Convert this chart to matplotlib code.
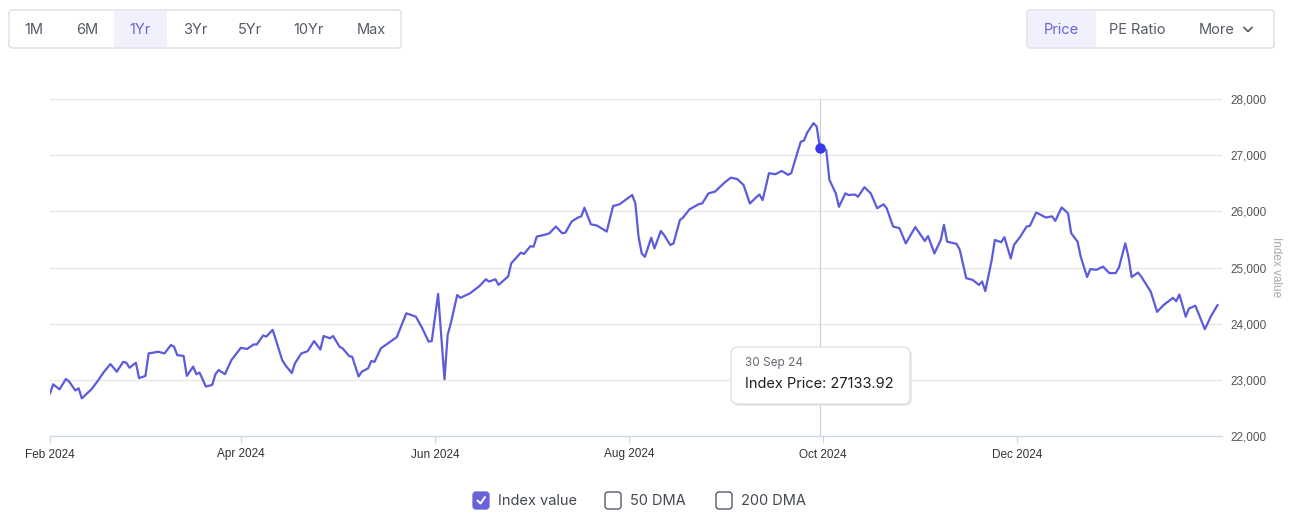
import matplotlib
matplotlib.use('Agg')
import matplotlib.pyplot as plt
import matplotlib.dates as mdates
from matplotlib.patches import FancyBboxPatch, Rectangle
from matplotlib.ticker import FuncFormatter
import numpy as np
import pandas as pd

plt.rcParams['font.family'] = ['Inter', 'DejaVu Sans']

# データ: 2024-02-01 からの経過日数と指数値
START = "2024-02-01"
day_offsets = [
    0, 1, 3, 5, 6, 8, 9, 10, 13, 15, 17, 19, 21, 23, 24, 25, 27, 28, 30, 31,
    34, 36, 38, 39, 40, 42, 43, 45, 46, 47, 49, 51, 52, 53, 55, 57, 60, 62, 64, 65,
    67, 68, 70, 71, 73, 74, 76, 77, 79, 81, 83, 85, 86, 88, 89, 91, 92, 94, 95, 97,
    98, 100, 101, 102, 104, 106, 109, 112, 115, 117, 119, 120, 122, 124, 125, 126, 128, 129, 132, 135,
    137, 138, 140, 141, 144, 145, 148, 149, 151, 152, 153, 156, 157, 159, 161, 162, 164, 166, 167, 168,
    170, 172, 175, 177, 179, 183, 184, 185, 186, 187, 189, 190, 192, 193, 195, 196, 198, 199, 201, 204,
    205, 207, 209, 212, 214, 216, 218, 220, 222, 223, 224, 226, 228, 230, 232, 233, 235, 236, 237, 238,
    240, 241, 242, 244, 245, 247, 248, 250, 251, 253, 254, 256, 258, 260, 262, 263, 265, 267, 269, 272,
    275, 276, 278, 280, 281, 282, 285, 286, 288, 290, 292, 293, 294, 296, 297, 299, 300, 302, 303, 305,
    307, 308, 310, 313, 315, 316, 318, 320, 321, 323, 324, 326, 327, 329, 331, 333, 335, 336, 338, 339,
    340, 342, 343, 345, 346, 348, 350, 353, 354, 355, 357, 358, 360, 361, 363, 365, 367,
]
index_values = [
    22760, 22920, 22830, 23015, 22970, 22810, 22850, 22670, 22830, 22980, 23145, 23280, 23145, 23320, 23305, 23215, 23305, 23030, 23070, 23470,
    23500, 23470, 23620, 23590, 23440, 23425, 23070, 23235, 23100, 23130, 22880, 22910, 23100, 23175, 23100, 23350, 23570, 23550, 23630, 23630,
    23790, 23770, 23890, 23710, 23350, 23260, 23120, 23295, 23470, 23510, 23690, 23540, 23780, 23740, 23780, 23590, 23560, 23425, 23410, 23060,
    23145, 23205, 23335, 23320, 23560, 23640, 23760, 24185, 24125, 23920, 23680, 23690, 24530, 23010, 23800, 24010, 24510, 24460, 24540, 24670,
    24790, 24750, 24790, 24690, 24840, 25075, 25265, 25240, 25380, 25370, 25550, 25590, 25610, 25730, 25610, 25620, 25820, 25890, 25910, 26065,
    25770, 25745, 25640, 26095, 26125, 26290, 26140, 25550, 25250, 25190, 25530, 25340, 25650, 25580, 25400, 25430, 25845, 25890, 26035, 26130,
    26140, 26320, 26350, 26510, 26600, 26575, 26470, 26140, 26250, 26300, 26200, 26680, 26660, 26720, 26650, 26680, 27060, 27240, 27260, 27400,
    27570, 27510, 27133.92, 27090, 26560, 26320, 26080, 26320, 26290, 26300, 26260, 26430, 26320, 26055, 26125, 26055, 25730, 25700, 25430, 25720,
    25470, 25560, 25250, 25490, 25760, 25460, 25420, 25310, 24810, 24780, 24690, 24750, 24580, 25130, 25490, 25450, 25540, 25160, 25400, 25550,
    25730, 25740, 25980, 25890, 25910, 25830, 26070, 25965, 25610, 25460, 25190, 24830, 24970, 24960, 25015, 24900, 24900, 25000, 25430, 25190,
    24830, 24910, 24840, 24660, 24570, 24210, 24330, 24460, 24400, 24520, 24125, 24270, 24320, 24185, 23900, 24140, 24330,
]
y_ticks = [22000, 23000, 24000, 25000, 26000, 27000, 28000]
x_ticks = ['2024-02-01', '2024-04-01', '2024-06-01', '2024-08-01', '2024-10-01', '2024-12-01']
range_buttons = ['1M', '6M', '1Yr', '3Yr', '5Yr', '10Yr', 'Max']
range_x = [34, 87, 140, 195, 250, 309, 371]
view_buttons = ['Price', 'PE Ratio', 'More']
view_x = [1061, 1137, 1217]
tooltip_date = "30 Sep 24"
tooltip_price = 27133.92

LINE = '#5b5bdc'
PURPLE = '#6a62d9'
W, H = 1296, 514

dates = pd.Timestamp(START) + pd.to_timedelta(day_offsets, unit='D')

fig = plt.figure(figsize=(W / 100, H / 100), dpi=100)
ax = fig.add_axes([50 / W, 1 - 436 / H, (1222 - 50) / W, (436 - 99) / H])

ax.plot(dates, index_values, color=LINE, lw=1.6, zorder=3, solid_joinstyle='round')

# 選択中の点とクロスヘア
sel = pd.Timestamp('2024-09-30')
ax.axvline(sel, color='#cccccc', lw=0.8, zorder=2)
ax.plot([sel], [tooltip_price], 'o', color='#3a35ee', ms=6.5, zorder=4)

ax.set_xlim(pd.Timestamp(START), pd.Timestamp(START) + pd.Timedelta(days=368.4))
ax.set_ylim(22000, 28000)
ax.set_yticks(y_ticks)
ax.yaxis.tick_right()
ax.yaxis.set_major_formatter(FuncFormatter(lambda v, p: f'{int(v):,}'))
ax.tick_params(axis='y', length=0, pad=6, labelsize=8.5, labelcolor='#555555')
for lab in ax.get_yticklabels():
    lab.set_family(['Liberation Sans', 'DejaVu Sans'])
ax.grid(axis='y', color='#e6e6e6', lw=0.9)
ax.set_axisbelow(True)

ax.set_xticks(pd.to_datetime(x_ticks))
ax.xaxis.set_major_formatter(mdates.DateFormatter('%b %Y'))
ax.tick_params(axis='x', length=5, width=0.8, color='#ccd6eb', pad=4,
               labelsize=8.5, labelcolor='#333333')
for lab in ax.get_xticklabels():
    lab.set_family(['Liberation Sans', 'DejaVu Sans'])

for s in ['top', 'left', 'right']:
    ax.spines[s].set_visible(False)
ax.spines['bottom'].set_color('#ccd6eb')
ax.spines['bottom'].set_linewidth(0.9)

ax.yaxis.set_label_position('right')
ax.set_ylabel('Index value', rotation=270, labelpad=11, fontsize=8.5,
              color='#a8a8a8', family=['Liberation Sans', 'DejaVu Sans'])

# UI オーバーレイ (ピクセル座標)
ui = fig.add_axes([0, 0, 1, 1], zorder=5)
ui.set_xlim(0, W)
ui.set_ylim(H, 0)
ui.axis('off')
ui.patch.set_alpha(0)

def box(x0, y0, x1, y1, fc='white', ec='#d9d9e3', r=3, lw=0.9, z=1):
    p = FancyBboxPatch((x0, y0), x1 - x0, y1 - y0,
                       boxstyle=f"round,pad=0,rounding_size={r}",
                       fc=fc, ec=ec, lw=lw, zorder=z)
    ui.add_patch(p)

# 期間ボタン
box(9, 10, 401, 48)
ui.add_patch(Rectangle((114, 11), 53, 36, fc='#f1f1fd', ec='none', zorder=1.5))
for lab, x in zip(range_buttons, range_x):
    c = PURPLE if lab == '1Yr' else '#555a66'
    ui.text(x, 30, lab, ha='center', va='center', fontsize=10.5, color=c, zorder=2)

# 表示切替ボタン
box(1027, 10, 1274, 48)
ui.add_patch(Rectangle((1028, 11), 68, 36, fc='#f1f1fd', ec='none', zorder=1.5))
for lab, x in zip(view_buttons, view_x):
    c = PURPLE if lab == 'Price' else '#555a66'
    ui.text(x, 30, lab, ha='center', va='center', fontsize=10.5, color=c, zorder=2)
ui.plot([1244, 1248, 1252], [27.5, 31.5, 27.5], color='#555a66', lw=1.2, zorder=2)

# ツールチップ
box(733, 349, 912, 406, fc='#e9e9ee', ec='none', r=7, z=2)
box(731, 347, 910, 404, fc='white', ec='#dcdce4', r=7, z=3)
ui.text(745, 363, tooltip_date, ha='left', va='center', fontsize=8.5,
        color='#666a73', zorder=4)
ui.text(745, 384, f'Index Price: {tooltip_price:.2f}', ha='left', va='center',
        fontsize=10.5, color='#1f1f24', zorder=4)

# 凡例
box(473, 492, 489, 509, fc=PURPLE, ec=PURPLE, r=3)
ui.plot([477.5, 480.5, 485], [500.5, 503.5, 497], color='white', lw=1.4,
        solid_capstyle='round', zorder=3)
ui.text(498, 501, 'Index value', ha='left', va='center', fontsize=10.5, color='#444852')
box(605, 492, 621, 509, fc='white', ec='#555a66', r=3, lw=1)
ui.text(630, 501, '50 DMA', ha='left', va='center', fontsize=10.5, color='#444852')
box(716, 492, 732, 509, fc='white', ec='#555a66', r=3, lw=1)
ui.text(741, 501, '200 DMA', ha='left', va='center', fontsize=10.5, color='#444852')

fig.savefig('out.png', dpi=100, facecolor='white')
plt.close(fig)
